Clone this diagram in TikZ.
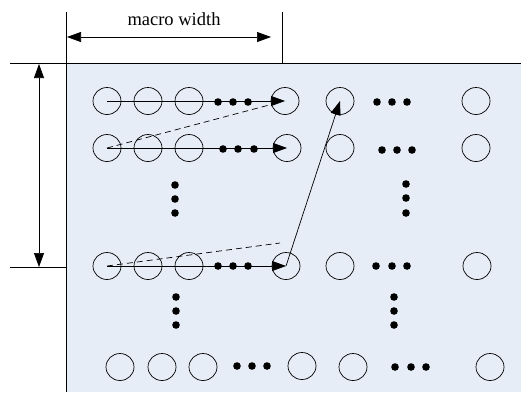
\documentclass[tikz,border=0pt]{standalone}
\usepackage{fontspec}
\setmainfont{Liberation Serif}
\usetikzlibrary{arrows.meta,calc}
\definecolor{panel}{RGB}{230,237,247}
\tikzset{
  cell/.style={draw, ellipse, minimum width=28pt, minimum height=27pt, inner sep=0pt, line width=0.7pt},
  dotm/.style={fill=black, circle, minimum size=7.6pt, inner sep=0pt},
  arr/.style={-{Triangle[length=14pt,width=10pt]}, line width=0.7pt},
  darr/.style={{Triangle[length=14pt,width=10pt]}-{Triangle[length=14pt,width=10pt]}, line width=0.7pt},
  thin line/.style={line width=0.7pt},
  dash line/.style={dashed, dash pattern=on 6pt off 4pt, line width=0.7pt}
}
\usetikzlibrary{shapes.geometric}
\begin{document}
\begin{tikzpicture}[x=1pt,y=-1pt]
\useasboundingbox (0,0) rectangle (521,392);
\fill[panel] (66,63) rectangle (521,392);
% frame lines
\coordinate (tl) at (10,63);
\coordinate (tr) at (521,63);
\coordinate (lt) at (66,12);
\coordinate (lb) at (66,392);
\coordinate (mt) at (282,12);
\coordinate (mb) at (282,63);
\coordinate (bl) at (10,267);
\coordinate (br) at (66,267);
\draw[thin line] (tl) -- (tr);
\draw[thin line] (lt) -- (lb);
\draw[thin line] (mt) -- (mb);
\draw[thin line] (bl) -- (br);
% dimension arrows
\coordinate (wl) at (67,37);
\coordinate (wr) at (271,37);
\draw[darr] (wl) -- (wr);
\node[anchor=base, font=\fontsize{18.5}{20}\selectfont] (lbl) at (174,25) {macro width};
\coordinate (ht) at (39,64);
\coordinate (hb) at (39,267);
\draw[darr] (ht) -- (hb);
% row 1
\node[cell] (a1) at (107,101) {};
\node[cell] (a2) at (148,101) {};
\node[cell] (a3) at (189,101) {};
\node[cell] (a4) at (285,101) {};
\node[cell] (a5) at (340,101) {};
\node[cell] (a6) at (476,101) {};
\node[dotm] (ad1) at (218,102) {};
\node[dotm] (ad2) at (233,102) {};
\node[dotm] (ad3) at (248,102) {};
\node[dotm] (ae1) at (377,102) {};
\node[dotm] (ae2) at (392,102) {};
\node[dotm] (ae3) at (407,102) {};
% row 2
\node[cell] (b1) at (107,148) {};
\node[cell] (b2) at (148,148) {};
\node[cell] (b3) at (189,148) {};
\node[cell] (b4) at (287,148) {};
\node[cell] (b5) at (340,148) {};
\node[cell] (b6) at (476,148) {};
\node[dotm] (bd1) at (223,149) {};
\node[dotm] (bd2) at (238,149) {};
\node[dotm] (bd3) at (254,149) {};
\node[dotm] (be1) at (382,150) {};
\node[dotm] (be2) at (397,150) {};
\node[dotm] (be3) at (412,150) {};
% vertical dots
\node[dotm] (v1) at (175,185) {};
\node[dotm] (v2) at (175,199) {};
\node[dotm] (v3) at (175,213) {};
\node[dotm] (w1) at (406,184) {};
\node[dotm] (w2) at (406,198) {};
\node[dotm] (w3) at (406,213) {};
% row 3
\node[cell] (c1) at (107,266) {};
\node[cell] (c2) at (148,266) {};
\node[cell] (c3) at (189,266) {};
\node[cell] (c4) at (286,266) {};
\node[cell] (c5) at (340,266) {};
\node[cell] (c6) at (477,266) {};
\node[dotm] (cd1) at (218,266) {};
\node[dotm] (cd2) at (233,266) {};
\node[dotm] (cd3) at (248,266) {};
\node[dotm] (ce1) at (376,266) {};
\node[dotm] (ce2) at (392,266) {};
\node[dotm] (ce3) at (407,266) {};
% vertical dots lower
\node[dotm] (x1) at (176,297) {};
\node[dotm] (x2) at (176,311) {};
\node[dotm] (x3) at (176,325) {};
\node[dotm] (y1) at (394,297) {};
\node[dotm] (y2) at (394,311) {};
\node[dotm] (y3) at (394,325) {};
% row 4
\node[cell] (d1) at (120,367) {};
\node[cell] (d2) at (162,367) {};
\node[cell] (d3) at (203,367) {};
\node[cell] (d4) at (302,366) {};
\node[cell] (d5) at (353,367) {};
\node[cell] (d6) at (490,367) {};
\node[dotm] (dd1) at (237,366) {};
\node[dotm] (dd2) at (252,366) {};
\node[dotm] (dd3) at (267,366) {};
\node[dotm] (de1) at (395,367) {};
\node[dotm] (de2) at (411,367) {};
\node[dotm] (de3) at (426,367) {};
% connectors
\draw[arr] (a1.center) -- (a4.center);
\draw[arr] (b1.center) -- (b4.center);
\draw[arr] (c1.center) -- (c4.center);
\coordinate (ka) at (273,104);
\coordinate (kc) at (280,243);
\draw[dash line] (b1.center) -- (ka);
\draw[dash line] (c1.center) -- (kc);
\draw[arr] (c4.center) -- (a5.center);
\end{tikzpicture}
\end{document}
